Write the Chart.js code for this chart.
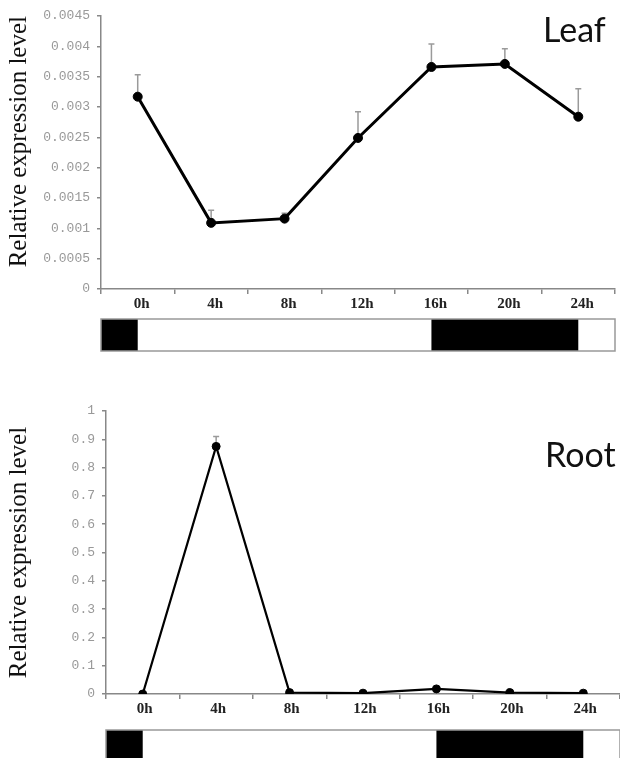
<!DOCTYPE html>
<html lang="en">
<head>
  <meta charset="UTF-8">
  <title>Leaf / Root expression</title>
  <script src="https://cdn.jsdelivr.net/npm/chart.js"></script>
  <style>
    body { margin: 0; background: #fff; width: 620px; height: 758px; overflow: hidden; position: relative; }
    canvas { position: absolute; left: 0; }
    #leafChart { top: 0; }
    #rootChart { top: 380px; }
    .tag { position: absolute; font-family: Lato, sans-serif; font-size: 34px; line-height: 34px; color: #111; }
  </style>
</head>
<body>
  <canvas id="leafChart" width="620" height="360"></canvas>
  <canvas id="rootChart" width="620" height="378"></canvas>
  <div class="tag" style="left: 543px; top: 12px;">Leaf</div>
  <div class="tag" style="left: 545px; top: 437px;">Root</div>

  <script>
    const timeLabels = ['0h', '4h', '8h', '12h', '16h', '20h', '24h'];

    const leafMean = [0.00317, 0.00109, 0.00116, 0.00249, 0.00366, 0.00371, 0.00284];
    const leafErr  = [0.00036, 0.00021, 0.00009, 0.00043, 0.00038, 0.00025, 0.00046];

    const rootMean = [0.0, 0.875, 0.005, 0.003, 0.018, 0.005, 0.003];
    const rootErr  = [0, 0.035, 0, 0, 0, 0, 0];

    // light/dark bar under each chart, in hours (axis runs -2h .. 26h)
    const barRange = [-2, 26];
    const darkHours = [[-2, 0], [16, 24]];

    // upper error bars only, grey with a small cap
    const errorBars = {
      id: 'errorBars',
      beforeDatasetsDraw(chart, args, opts) {
        const { ctx, scales: { x, y } } = chart;
        const data = chart.data.datasets[0].data;
        ctx.save();
        ctx.strokeStyle = '#9a9a9a';
        ctx.lineWidth = 1.5;
        opts.errors.forEach((e, i) => {
          if (!e) return;
          const px = x.getPixelForValue(i);
          const y0 = y.getPixelForValue(data[i]);
          const y1 = y.getPixelForValue(data[i] + e);
          ctx.beginPath();
          ctx.moveTo(px, y0);
          ctx.lineTo(px, y1);
          ctx.moveTo(px - 3, y1);
          ctx.lineTo(px + 3, y1);
          ctx.stroke();
        });
        ctx.restore();
      }
    };

    const dayNight = {
      id: 'dayNight',
      afterDraw(chart, args, opts) {
        const { ctx, chartArea, scales: { x } } = chart;
        const px = h => x.getPixelForValue(h / 4);
        const top = chartArea.bottom + opts.offset;
        const left = px(barRange[0]);
        const right = px(barRange[1]);
        ctx.save();
        ctx.fillStyle = '#fff';
        ctx.fillRect(left, top, right - left, opts.height);
        ctx.fillStyle = '#000';
        darkHours.forEach(([a, b]) => {
          ctx.fillRect(px(a), top, px(b) - px(a), opts.height);
        });
        ctx.strokeStyle = '#999';
        ctx.lineWidth = 1.5;
        ctx.strokeRect(left, top, right - left, opts.height);
        ctx.restore();
      }
    };

    const makeChart = (id, mean, err, cfg) => new Chart(document.getElementById(id), {
      type: 'line',
      data: {
        labels: timeLabels,
        datasets: [{
          data: mean,
          borderColor: '#000',
          backgroundColor: '#000',
          borderWidth: cfg.lineWidth,
          pointRadius: cfg.pointRadius,
          pointHoverRadius: cfg.pointRadius,
          pointBorderWidth: 1,
          tension: 0
        }]
      },
      options: {
        responsive: false,
        animation: false,
        layout: { padding: cfg.padding, autoPadding: false },
        plugins: {
          legend: { display: false },
          tooltip: { enabled: false },
          errorBars: { errors: err },
          dayNight: cfg.bar
        },
        scales: {
          x: {
            offset: true,
            afterFit(scale) { scale.height = 30; },
            grid: { offset: true, drawOnChartArea: false, tickLength: 5, color: '#888', lineWidth: 1.5 },
            border: { color: '#888', width: 1.5 },
            ticks: {
              color: '#222',
              padding: 1,
              labelOffset: cfg.labelOffset,
              font: { family: 'Liberation Serif', size: 15, weight: 'bold' }
            }
          },
          y: {
            min: 0,
            max: cfg.max,
            afterFit(scale) { scale.width = cfg.axisLeft; },
            grid: { drawOnChartArea: false, tickLength: 4, color: '#888', lineWidth: 1.5 },
            border: { color: '#888', width: 1.5 },
            ticks: {
              stepSize: cfg.step,
              color: '#999',
              padding: 7,
              font: { family: 'Liberation Mono', size: 13 },
              callback: v => String(+v.toFixed(cfg.digits))
            },
            title: {
              display: true,
              text: 'Relative expression level',
              align: cfg.titleAlign,
              color: '#111',
              padding: { top: 4, bottom: 0 },
              font: { family: 'Liberation Serif', size: 25 }
            }
          }
        }
      },
      plugins: [errorBars, dayNight]
    });

    makeChart('leafChart', leafMean, leafErr, {
      max: 0.0045, step: 0.0005, digits: 4, lineWidth: 3, pointRadius: 4.5, labelOffset: 4,
      axisLeft: 101, titleAlign: 'end',
      padding: { top: 16, right: 5, bottom: 41, left: 0 },
      bar: { offset: 30, height: 32 }
    });

    makeChart('rootChart', rootMean, rootErr, {
      max: 1, step: 0.1, digits: 1, lineWidth: 2.2, pointRadius: 4, labelOffset: 2,
      axisLeft: 106, titleAlign: 'center',
      padding: { top: 31, right: 0, bottom: 34, left: 0 },
      bar: { offset: 36, height: 40 }
    });
  </script>
</body>
</html>
